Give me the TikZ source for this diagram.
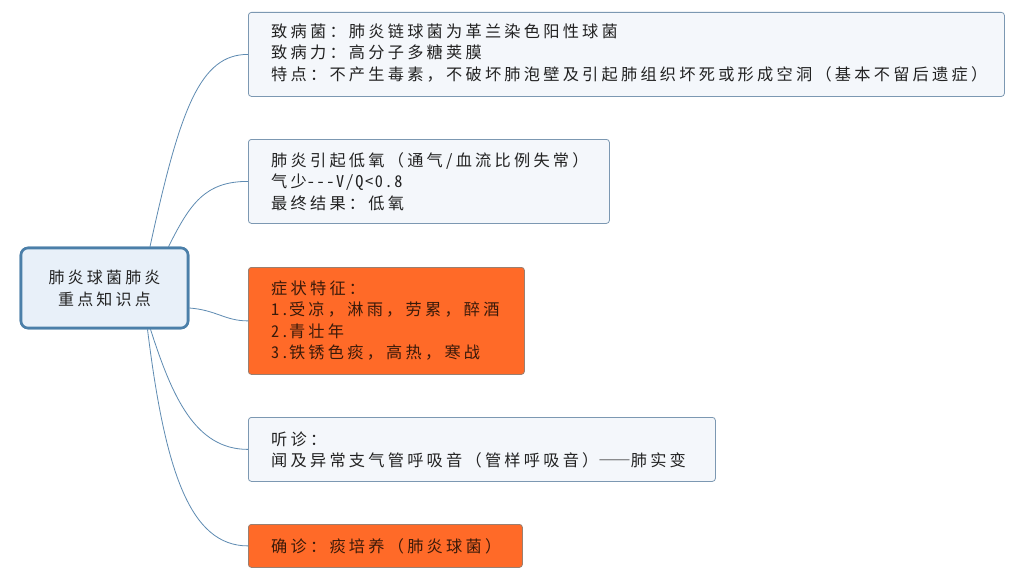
\documentclass[tikz,border=0pt]{standalone}
\usepackage{fontspec}
\setmainfont[LetterSpace=20,Ligatures=TeXOff]{Noto Sans CJK SC}
\newcommand{\hw}[1]{{\addfontfeatures{RawFeature=+hwid,LetterSpace=10}#1}}
\newcommand{\fw}[1]{{\addfontfeatures{RawFeature=+fwid}#1}}
\definecolor{boxline}{HTML}{7C98B2}
\definecolor{lightfill}{HTML}{F4F7FB}
\definecolor{orangefill}{HTML}{FF6A28}
\definecolor{obline}{HTML}{9A7F70}
\definecolor{conncol}{HTML}{5E8BB2}
\definecolor{rootline}{HTML}{4B7FA9}
\definecolor{rootfill}{HTML}{E8F0F9}
\definecolor{darktext}{HTML}{222222}
\definecolor{otext}{HTML}{3A1A0A}
\begin{document}
\begin{tikzpicture}[x=1pt,y=-1pt,
  lbox/.style={draw=boxline, fill=lightfill, rounded corners=3pt, line width=0.8pt, inner sep=0pt, anchor=north west},
  obox/.style={draw=obline, fill=orangefill, rounded corners=3pt, line width=0.8pt, inner sep=0pt, anchor=north west},
  txt/.style={anchor=west, align=left, inner sep=0pt, font=\fontsize{16.2}{21.5}\selectfont, text=darktext},
  otxt/.style={txt, text=otext},
  conn/.style={draw=conncol, line width=0.8pt},
  rootbox/.style={draw=rootline, fill=rootfill, line width=2.6pt, rounded corners=7pt, minimum width=167pt, minimum height=80pt, align=center, inner sep=0pt, font=\fontsize{16}{22}\selectfont, text=darktext}
]
\useasboundingbox[fill=white] (0,0) rectangle (1023,578);

\node[lbox, minimum width=756pt, minimum height=84pt] (b1) at (248,12) {};
\node[txt] (t1) at (271,53) {致病菌：肺炎链球菌为革兰染色阳性球菌\\致病力：高分子多糖荚膜\\特点：不产生毒素，不破坏肺泡壁及引起肺组织坏死或形成空洞（基本不留后遗症）};

\node[lbox, minimum width=361pt, minimum height=84pt] (b2) at (248,139) {};
\node[txt] (t2) at (271,181.5) {肺炎引起低氧（通气/血流比例失常）\\气少\hw{---V/Q<0.8}\\最终结果：低氧};

\node[obox, minimum width=276pt, minimum height=107pt] (b3) at (248,267) {};
\node[otxt] (t3) at (271,320.5) {症状特征：\\\hw{1.}受凉，淋雨，劳累，醉酒\\\hw{2.}青壮年\\\hw{3.}铁锈色痰，高热，寒战};

\node[lbox, minimum width=467pt, minimum height=64pt] (b4) at (248,417) {};
\node[txt] (t4) at (271,450) {听诊：\\闻及异常支气管呼吸音（管样呼吸音）\fw{——}肺实变};

\node[obox, minimum width=274pt, minimum height=43pt] (b5) at (248,524) {};
\node[otxt] (t5) at (271,546) {确诊：痰培养（肺炎球菌）};

\node[rootbox] (root) at (104.5,288) {};

\draw[conn] ([xshift=45.5pt]root.north) .. controls +(30,-138) and +(-48,0) .. (b1.west);
\draw[conn] ([xshift=64pt]root.north) .. controls +(21.5,-43) and +(-43,0) .. (b2.west);
\draw[conn] ([yshift=-20pt]root.east) .. controls +(27,2) and +(-23,0) .. (b3.west);
\draw[conn] ([xshift=46pt]root.south) .. controls +(21.5,67) and +(-53,0) .. (b4.west);
\draw[conn] ([xshift=43pt]root.south) .. controls +(17.5,142) and +(-58,0) .. (b5.west);

\node[rootbox] (root2) at (104.5,288) {肺炎球菌肺炎\\重点知识点};
\end{tikzpicture}
\end{document}
